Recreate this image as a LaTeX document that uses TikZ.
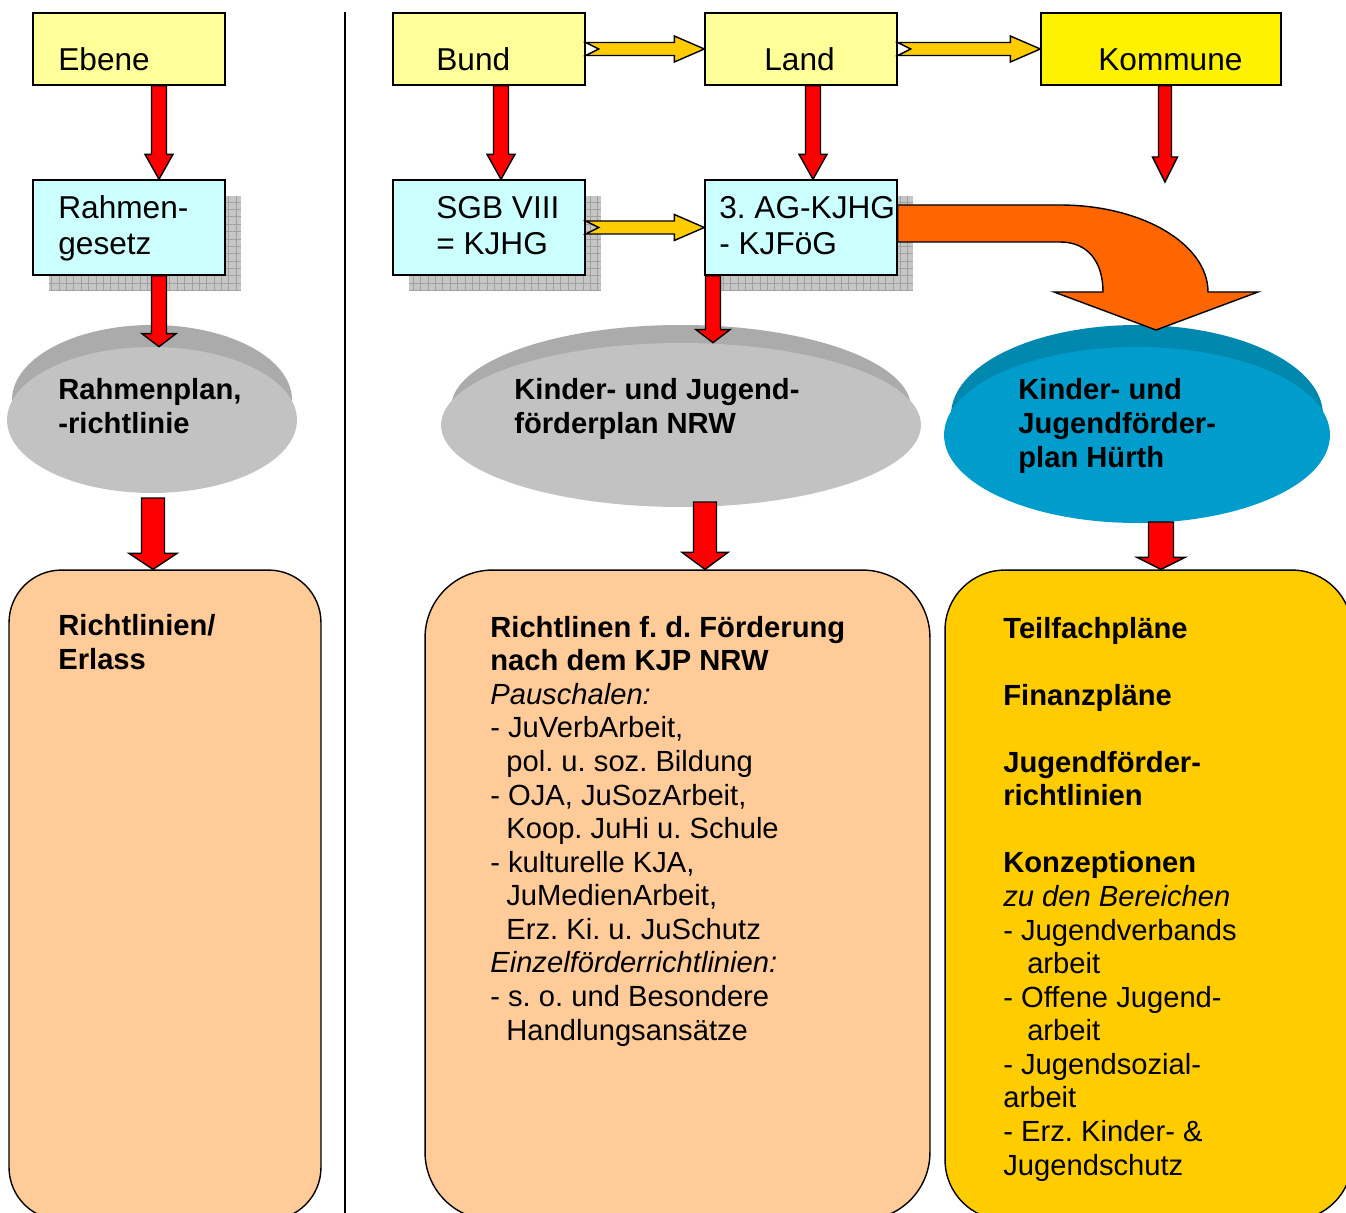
\documentclass[tikz,border=0pt]{standalone}
\usepackage{fontspec}
\setmainfont{Liberation Sans}
\usepackage{tikz}
\usetikzlibrary{calc,positioning,shapes.geometric,shadows,patterns.meta}
\frenchspacing

\definecolor{levelyellow}{HTML}{FFFF99}
\definecolor{lawcyan}{HTML}{CCFFFF}
\definecolor{peach}{HTML}{FFCC99}
\definecolor{gold}{HTML}{FFCC00}
\definecolor{bandgray}{HTML}{ABABAB}
\definecolor{facegray}{HTML}{C2C2C2}
\definecolor{bandblue}{HTML}{0088AE}
\definecolor{faceblue}{HTML}{009CCB}
\definecolor{shadowgray}{HTML}{C6C6C6}
\definecolor{gridgray}{HTML}{A0A0A0}
\definecolor{bendorange}{HTML}{FF6600}

\newcommand\boxfont{\fontsize{18}{21}\selectfont}
\newcommand\bodyfont{\fontsize{16.6}{19.1}\selectfont}

% block arrow pointing down: top point, tip, half shaft, half head, head length
\newcommand\redarrow[5]{%
  \draw[redarr] ($#1+(-#3,0)$) -- ($#1+(#3,0)$) -- ($#2+(#3,-#5)$) -- ($#2+(#4,-#5)$)
    -- #2 -- ($#2+(-#4,-#5)$) -- ($#2+(-#3,-#5)$) -- cycle;}
% notched block arrow pointing right: tail, tip
\newcommand\yellowarrow[2]{%
  \draw[yellowarr] ($#1+(0,-6.5)$) -- ($#2+(-30,-6.5)$) -- ($#2+(-30,-13)$) -- #2
    -- ($#2+(-30,13)$) -- ($#2+(-30,6.5)$) -- ($#1+(0,6.5)$) -- ($#1+(13,0)$) -- cycle;}

\tikzset{%
gridshadow/.style={
  general shadow={fill=shadowgray, shadow xshift=0.32cm, shadow yshift=-0.32cm},
  general shadow={pattern={Hatch[distance=4.2pt, line width=0.4pt]}, pattern color=gridgray,
    shadow xshift=0.32cm, shadow yshift=-0.32cm}},
levelbox/.style={draw, line width=0.8pt, fill=levelyellow, minimum width=3.84cm,
  minimum height=1.44cm, inner sep=0pt},
lawbox/.style={levelbox, fill=lawcyan, minimum height=1.9cm, gridshadow},
planface/.style={ellipse, inner sep=0pt},
bigbox/.style={draw, line width=0.8pt, rounded corners=#1, inner sep=0pt, minimum height=13cm},
boxtext/.style={anchor=base west, align=left, inner sep=0pt, font=\boxfont},
plantext/.style={anchor=base west, align=left, inner sep=0pt, font=\bodyfont\bfseries},
bodytext/.style={anchor=base west, align=left, inner sep=0pt, font=\bodyfont},
redarr/.style={draw, line width=0.8pt, fill=red, line join=miter},
yellowarr/.style={draw, line width=0.8pt, fill=gold, line join=miter},
orangearr/.style={draw, line width=0.8pt, fill=bendorange, line join=miter}
}

\begin{document}
\begin{tikzpicture}[x=0.02cm, y=-0.02cm]
\useasboundingbox (0,0) rectangle (1346,1213);

\draw[line width=0.8pt] (345,12) coordinate (septop) -- (345,1213) coordinate (sepfoot);

% backs of the plan discs
\fill[bandgray] (152,400) ellipse [x radius=140, y radius=75];
\fill[bandgray] (681,408) ellipse [x radius=230, y radius=83];
\fill[bandblue] (1137,415) ellipse [x radius=186, y radius=90];

% level boxes
\node[levelbox] (ebene) at (129,49) {};
\node[levelbox] (bund) at (489,49) {};
\node[levelbox] (land) at (801,49) {};
\node[levelbox, fill=yellow, minimum width=4.8cm] (kommune) at (1161,49) {};

\node[lawbox] (rahmen) at (129,227.5) {};
\node[lawbox] (sgb) at (489,227.5) {};
\node[lawbox] (ag) at (801,227.5) {};

% plan discs
\node[planface, fill=facegray, minimum width=5.8cm, minimum height=2.92cm] (rplan) at (152,420) {};
\node[planface, fill=facegray, minimum width=9.6cm, minimum height=3.28cm] (nrwplan) at (681,425) {};
\node[planface, fill=faceblue, minimum width=7.72cm, minimum height=3.52cm] (huerthplan) at (1137,435) {};

% rule boxes
\node[bigbox=1.05cm, fill=peach, minimum width=6.24cm] (rrules) at (165,895) {};
\node[bigbox=1.35cm, fill=peach, minimum width=10.1cm] (nrwrules) at (677.5,895) {};
\node[bigbox=1.2cm, fill=gold, minimum width=8.14cm] (huerthrules) at (1148.5,895) {};

% texts (base = last line)
\node[boxtext] (ebenetext) at (58,71) {Ebene};
\node[boxtext] (bundtext) at (436,71) {Bund};
\node[boxtext] (landtext) at (764,71) {Land};
\node[boxtext] (kommunetext) at (1098,71) {Kommune};
\node[boxtext] (rahmentext) at (58,255) {Rahmen-\\gesetz};
\node[boxtext] (sgbtext) at (436,255) {SGB VIII\\= KJHG};
\node[boxtext] (agtext) at (719,255) {3. AG-KJHG\\- KJFöG};

\node[plantext] (rplantext) at (58,433) {Rahmenplan,\\-richtlinie};
\node[plantext] (nrwplantext) at (514,433) {Kinder- und Jugend-\\förderplan NRW};
\node[plantext] (huerthplantext) at (1018,467) {Kinder- und\\Jugendförder-\\plan Hürth};

\node[plantext] (rrulestext) at (58,669) {Richtlinien/\\Erlass};
\node[bodytext] (nrwrulestext) at (490,1040) {\textbf{Richtlinen f. d. Förderung}\\
  \textbf{nach dem KJP NRW}\\
  \textit{Pauschalen:}\\
  - JuVerbArbeit,\\
  \hspace*{.55em}pol. u. soz. Bildung\\
  - OJA, JuSozArbeit,\\
  \hspace*{.55em}Koop. JuHi u. Schule\\
  - kulturelle KJA,\\
  \hspace*{.55em}JuMedienArbeit,\\
  \hspace*{.55em}Erz. Ki. u. JuSchutz\\
  \textit{Einzelförderrichtlinien:}\\
  - s. o. und Besondere\\
  \hspace*{.55em}Handlungsansätze};
\node[bodytext] (huerthrulestext) at (1003,1175) {\textbf{Teilfachpläne}\\[19.1pt]
  \textbf{Finanzpläne}\\[19.1pt]
  \textbf{Jugendförder-}\\
  \textbf{richtlinien}\\[19.1pt]
  \textbf{Konzeptionen}\\
  \textit{zu den Bereichen}\\
  - Jugendverbands\\
  \hspace*{.82em}arbeit\\
  - Offene Jugend-\\
  \hspace*{.82em}arbeit\\
  - Jugendsozial-\\
  arbeit\\
  - Erz. Kinder- \&\\
  Jugendschutz};

% arrows between levels
\yellowarrow{(bund.east)}{(land.west)}
\yellowarrow{(land.east)}{(kommune.west)}
\yellowarrow{(sgb.east)}{(ag.west)}

\redarrow{(ebene.south -| 159,0)}{(rahmen.north -| 159,0)}{7.5}{14}{25}
\redarrow{(bund.south -| 501,0)}{(sgb.north -| 501,0)}{7.5}{14}{25}
\redarrow{(land.south -| 813,0)}{(ag.north -| 813,0)}{7.5}{14}{25}
\coordinate (kommunefoot) at (1165,182);
\redarrow{(kommune.south -| kommunefoot)}{(kommunefoot)}{6.5}{12.5}{25}

\redarrow{(rahmen.south -| 159,0)}{(rplan.north -| 159,0)}{7.5}{17}{13}
\redarrow{(ag.south -| 713,0)}{(nrwplan.north -| 713,0)}{7.5}{17}{13}

\coordinate (rplanfoot) at (153,498);
\coordinate (nrwplanfoot) at (705,502);
\coordinate (huerthplanfoot) at (1161,522);
\redarrow{(rplanfoot)}{(rrules.north -| rplanfoot)}{11.5}{24}{16}
\redarrow{(nrwplanfoot)}{(nrwrules.north -| nrwplanfoot)}{11.5}{23}{17}
\redarrow{(huerthplanfoot)}{(huerthrules.north -| huerthplanfoot)}{12.5}{24}{12}

% bent arrow from the state law to the local plan
\draw[orangearr] (ag.east |- 0,205) -- (1060,205) .. controls (1142,205) and (1208,244) .. (1208,292)
  -- (1258,292) -- (1156,330) -- (1054,292) -- (1103,292)
  .. controls (1103,262) and (1088,242) .. (1060,242) -- (ag.east |- 0,242) -- cycle;

\end{tikzpicture}
\end{document}
